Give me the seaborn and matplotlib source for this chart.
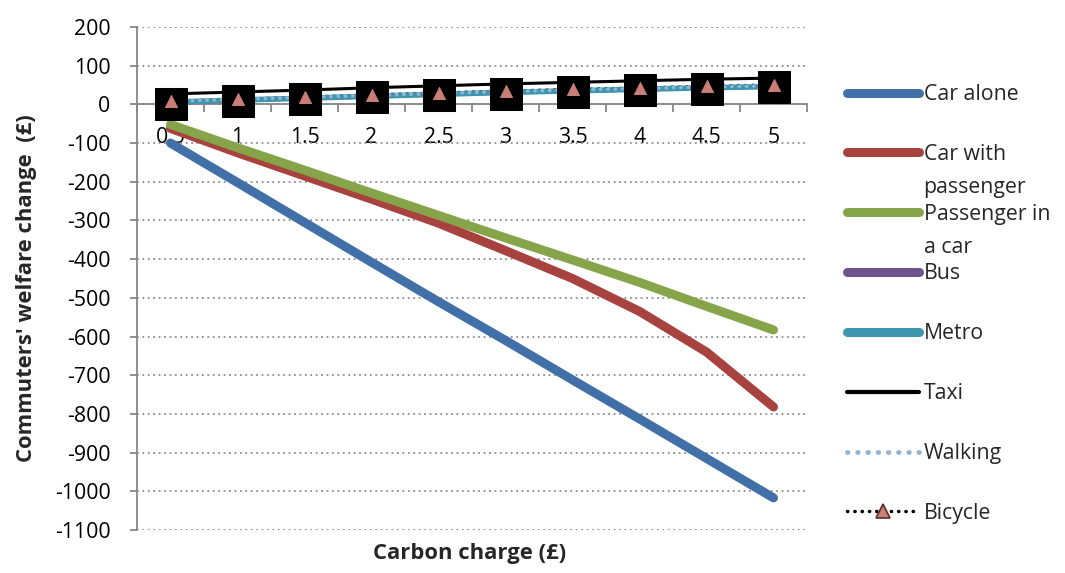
import matplotlib
matplotlib.use("Agg")
import matplotlib.pyplot as plt
from matplotlib.lines import Line2D
import seaborn as sns
import numpy as np

# ---- data ----
charges = ["0.5", "1", "1.5", "2", "2.5", "3", "3.5", "4", "4.5", "5"]
car_alone = [-100, -202, -305, -408, -510, -610, -712, -813, -915, -1017]
car_with_passenger = [-62, -125, -185, -245, -307, -378, -450, -535, -640, -782]
passenger_in_car = [-52, -112, -170, -229, -287, -345, -402, -460, -522, -583]
bus = [1, 8, 13, 18, 23, 28, 32, 36, 40, 44]
metro = [6, 11, 16, 21, 26, 31, 35, 39, 43, 46]
taxi = [27, 32, 37, 43, 48, 53, 57, 61, 65, 68]
walking = [8, 13, 18, 23, 28, 33, 37, 41, 45, 48]
bicycle = [8, 14, 19, 25, 30, 35, 39, 43, 47, 51]
labels = ["Car alone", "Car with\npassenger", "Passenger in\na car", "Bus", "Metro",
          "Taxi", "Walking", "Bicycle"]
yticks = list(range(-1100, 201, 100))

sns.set_theme(style="white")
plt.rcParams['font.family'] = ['Open Sans', 'DejaVu Sans']
FS = 15.3
FSB = 15.8

W, H = 1065, 573
fig = plt.figure(figsize=(W / 100, H / 100), dpi=100)
ax = fig.add_axes([137 / W, 1 - 530 / H, (807 - 137) / W, (530 - 27) / H])

pos = np.arange(len(charges))

c_blue, c_red, c_green = "#4170A8", "#A8423F", "#86A44A"
c_purple, c_teal, c_walk = "#6E548D", "#3D96AE", "#95B3D7"
c_tri = "#C97F78"

big = dict(lw=6.5, solid_capstyle="round", legend=False)
sns.lineplot(x=pos, y=car_alone, color=c_blue, ax=ax, zorder=3, **big)
sns.lineplot(x=pos, y=car_with_passenger, color=c_red, ax=ax, zorder=3, **big)
sns.lineplot(x=pos, y=passenger_in_car, color=c_green, ax=ax, zorder=3, **big)

sns.lineplot(x=pos, y=bicycle, color="black", lw=2, linestyle=":", ax=ax, zorder=2, legend=False)
sns.lineplot(x=pos, y=taxi, color="black", lw=2.2, ax=ax, zorder=3, legend=False)
sns.lineplot(x=pos, y=bus, color=c_purple, lw=1.6, ax=ax, zorder=3, legend=False)
sns.lineplot(x=pos, y=metro, color=c_teal, lw=4, ax=ax, zorder=3.2, legend=False)
sns.lineplot(x=pos, y=walking, color=c_walk, lw=2.5, linestyle=(0, (0.1, 2)),
             dash_capstyle="round", ax=ax, zorder=3.3, legend=False)
sns.lineplot(x=pos, y=bus, color=c_purple, lw=0, marker="s", markersize=23,
             markerfacecolor="black", markeredgecolor="black", ax=ax, zorder=4, legend=False)
sns.scatterplot(x=pos, y=bicycle, marker="^", s=75, color=c_tri, edgecolor=c_tri,
                ax=ax, zorder=5, legend=False)

# axes styling
ax.set_xlim(-0.5, len(charges) - 0.5)
ax.set_ylim(-1100, 200)
ax.set_yticks(yticks)
ax.set_yticklabels([str(v) for v in yticks])
ax.set_xticks(pos)
ax.set_xticklabels(charges)
ax.set_xticks(np.arange(-0.5, len(charges), 1.0), minor=True)

gcol = "#868686"
for s in ["top", "right"]:
    ax.spines[s].set_visible(False)
ax.spines["left"].set_color(gcol)
ax.spines["left"].set_linewidth(1.3)
ax.spines["bottom"].set_color(gcol)
ax.spines["bottom"].set_linewidth(1.3)
ax.spines["bottom"].set_position(("data", 0))
ax.spines["bottom"].set_zorder(2.5)

ax.tick_params(axis="y", which="major", direction="out", length=5, width=1.3,
               color=gcol, pad=14, labelsize=FS, labelcolor="black", left=True)
ax.tick_params(axis="x", which="major", length=0, pad=16, labelsize=FS, labelcolor="black",
               bottom=True)
ax.tick_params(axis="x", which="minor", direction="out", length=6, width=1.3,
               color=gcol, bottom=True)

ax.yaxis.grid(True, linestyle=(0, (1, 2)), color="#8c8c8c", lw=1.3)
ax.set_axisbelow(True)

ax.set_ylabel("Commuters' welfare change  (£)", fontsize=FSB, fontweight="bold")
ax.yaxis.set_label_coords(-0.149, 0.48)
ax.set_xlabel("Carbon charge (£)", fontsize=FSB, fontweight="bold")
ax.xaxis.set_label_coords(0.497, -0.026)

# legend
handles = [
    Line2D([], [], color=c_blue, lw=6.5, solid_capstyle="round"),
    Line2D([], [], color=c_red, lw=6.5, solid_capstyle="round"),
    Line2D([], [], color=c_green, lw=6.5, solid_capstyle="round"),
    Line2D([], [], color=c_purple, lw=6.5, solid_capstyle="round"),
    Line2D([], [], color=c_teal, lw=6.5, solid_capstyle="round"),
    Line2D([], [], color="black", lw=3),
    Line2D([], [], color=c_walk, lw=3.5, linestyle=(0, (0.1, 2)), dash_capstyle="round"),
    Line2D([], [], color="black", lw=2.5, linestyle=(0, (0.1, 2)), dash_capstyle="round",
           marker="^", markersize=10, markerfacecolor=c_tri, markeredgecolor="#5a2a26",
           markeredgewidth=1.2),
]
first_lines = [l.split("\n")[0] for l in labels]
leg = ax.legend(handles, first_lines, loc="upper left", bbox_to_anchor=(847 / W, 1 - 84 / H),
                bbox_transform=fig.transFigure, frameon=False, fontsize=FS,
                handlelength=3.4, handletextpad=0.2, labelspacing=1.827,
                borderpad=0, borderaxespad=0)

fig.canvas.draw()
renderer = fig.canvas.get_renderer()
for t, full in zip(leg.get_texts(), labels):
    if "\n" in full:
        bb = t.get_window_extent(renderer)
        fig.text(bb.x0 / W, (bb.y0 - 33) / H, full.split("\n")[1], fontsize=FS,
                 ha="left", va="bottom")

fig.savefig("out.png", dpi=100)
